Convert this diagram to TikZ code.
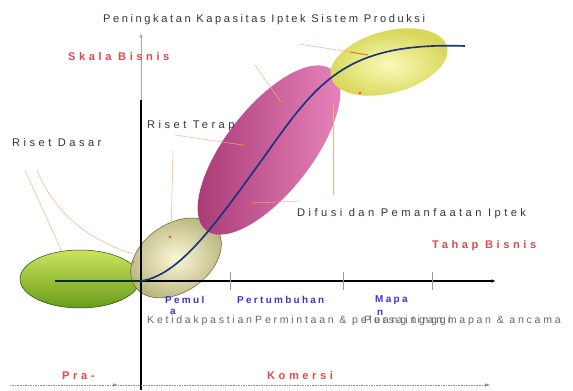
\documentclass[tikz,border=0pt]{standalone}
\usepackage{fontspec}
\setmainfont{Liberation Sans}
\newfontfamily\wide[LetterSpace=23]{Liberation Sans}
\newfontfamily\wider[LetterSpace=31]{Liberation Sans}
\newfontfamily\widest[LetterSpace=32]{Liberation Sans}
\newfontfamily\grayfont[LetterSpace=26]{Liberation Sans}
\usetikzlibrary{arrows.meta, positioning, shapes.geometric}
\definecolor{bisred}{RGB}{215,55,60}
\definecolor{stageblue}{RGB}{55,55,200}
\definecolor{curveblue}{RGB}{25,50,125}
\definecolor{leadorange}{RGB}{240,175,130}
\definecolor{dotorange}{RGB}{235,110,40}

\begin{document}
\begin{tikzpicture}[x=0.03cm, y=-0.03cm,
  lbl/.style={font=\wider\fontsize{9.5}{11}\selectfont, text=black!80, inner sep=0pt, anchor=west},
  titlelbl/.style={lbl, font=\wide\fontsize{9.5}{11}\selectfont},
  redlbl/.style={lbl, font=\widest\bfseries\fontsize{9.5}{11}\selectfont, text=bisred!90},
  bluelbl/.style={lbl, font=\wide\bfseries\fontsize{8.5}{10}\selectfont, text=stageblue},
  graylbl/.style={lbl, font=\grayfont\fontsize{9}{10}\selectfont, text=black!60},
  lead/.style={draw=leadorange, line width=0.4pt},
  leaddot/.style={circle, fill=dotorange, inner sep=1pt},
  axis/.style={black, line width=1pt},
  arrow/.style={-{Latex[length=4pt, width=3pt]}}]

\useasboundingbox (0,0) rectangle (573,390);

% blobs
\shade[top color={rgb,255:red,205;green,228;blue,95}, bottom color={rgb,255:red,105;green,155;blue,25}, draw=black!70!green, line width=0.4pt]
  (80,279) ellipse [x radius=60, y radius=29];
\shade[rotate around={35:(176,258)}, inner color={rgb,255:red,250;green,248;blue,215}, outer color={rgb,255:red,185;green,180;blue,125}, draw=black!40!olive, line width=0.4pt]
  (176,258) ellipse [x radius=50, y radius=34];
\shade[rotate around={52:(269,150)}, left color={rgb,255:red,165;green,55;blue,115}, right color={rgb,255:red,235;green,135;blue,190}, shading angle=90]
  (269,150) ellipse [x radius=102, y radius=43];
\shade[rotate around={15:(389,62)}, inner color={rgb,255:red,250;green,250;blue,185}, outer color={rgb,255:red,215;green,215;blue,90}]
  (389,62) ellipse [x radius=60, y radius=31];

% leader lines
\draw[lead] (25,170) -- (62,252);
\draw[lead] (37,170) .. controls (55,215) and (90,240) .. (133,254);
\node[leaddot] (d1) at (133,262) {};
\draw[lead] (175,135) -- (243,145);
\node[leaddot] (d2) at (243,145) {};
\draw[lead] (173,150) -- (171,236);
\node[leaddot] (d3) at (170,237) {};
\draw[lead] (255,65) -- (281,102);
\node[leaddot] (d4) at (281,103) {};
\draw[lead] (252,203) -- (300,201);
\node[leaddot] (d5) at (252,203) {};
\draw[lead] (333,105) -- (333,195);
\draw[lead] (299,44) -- (350,52);
\draw[dotorange, line width=0.8pt] (350,52) -- (368,55);
\node[leaddot] (d6) at (360,93) {};

% axes
\coordinate (origin) at (141,281);
\coordinate (ytop) at (141,33);
\coordinate (ymid) at (141,100);
\coordinate (ybot) at (141,390);
\coordinate (xend) at (496,281);
\coordinate (xstart) at (55,281);
\draw[black!35, line width=0.8pt, arrow] (ymid) -- (ytop);
\draw[axis] (ybot) -- (ymid);
\draw[axis, arrow] (origin) -- (xend);
\foreach \t in {230,343,432}
  \draw[black!40, line width=0.4pt] (\t,272) -- (\t,290);

% curve
\draw[black!80!green, line width=1.8pt] (xstart) -- (origin);
\draw[curveblue, line width=1.4pt] (origin) .. controls (180,275) and (215,225) .. (269,150)
  .. controls (320,78) and (350,42) .. (465,46);

% bottom line
\coordinate (bl) at (10,385);
\coordinate (bm) at (118,385);
\coordinate (br) at (490,385);
\draw[black!45, densely dotted, arrow] (bl) -- (bm);
\draw[black!45, densely dotted, arrow] (bm) -- (br);

% labels
\node[titlelbl] (title) at (103,20) {Peningkatan Kapasitas Iptek Sistem Produksi};
\node[redlbl] (skala) at (68,57) {Skala Bisnis};
\node[lbl] (dasar) at (12,143) {Riset Dasar};
\node[lbl] (terap) at (147,126) {Riset Terap};
\node[lbl] (difusi) at (297,214) {Difusi dan Pemanfaatan Iptek};
\node[redlbl] (tahap) at (432,246) {Tahap Bisnis};
\node[graylbl] (ketidak) at (147,321) {Ketidakpastian};
\node[graylbl] (permintaan) at (255,321) {Permintaan \& peluang tinggi};
\node[graylbl] (persaingan) at (364,321) {Persaingan mapan \& ancama};
\node[bluelbl] (pemul) at (165,300) {Pemul};
\node[bluelbl] (pemula) at (170,312) {a};
\node[bluelbl] (tumbuh) at (237,300) {Pertumbuhan};
\node[bluelbl] (mapa) at (375,300) {Mapa};
\node[bluelbl] (mapan) at (377,313) {n};
\node[redlbl] (pra) at (62,376) {Pra-};
\node[redlbl, anchor=center] (komersi) at (300,376) {Komersi};

\end{tikzpicture}
\end{document}
